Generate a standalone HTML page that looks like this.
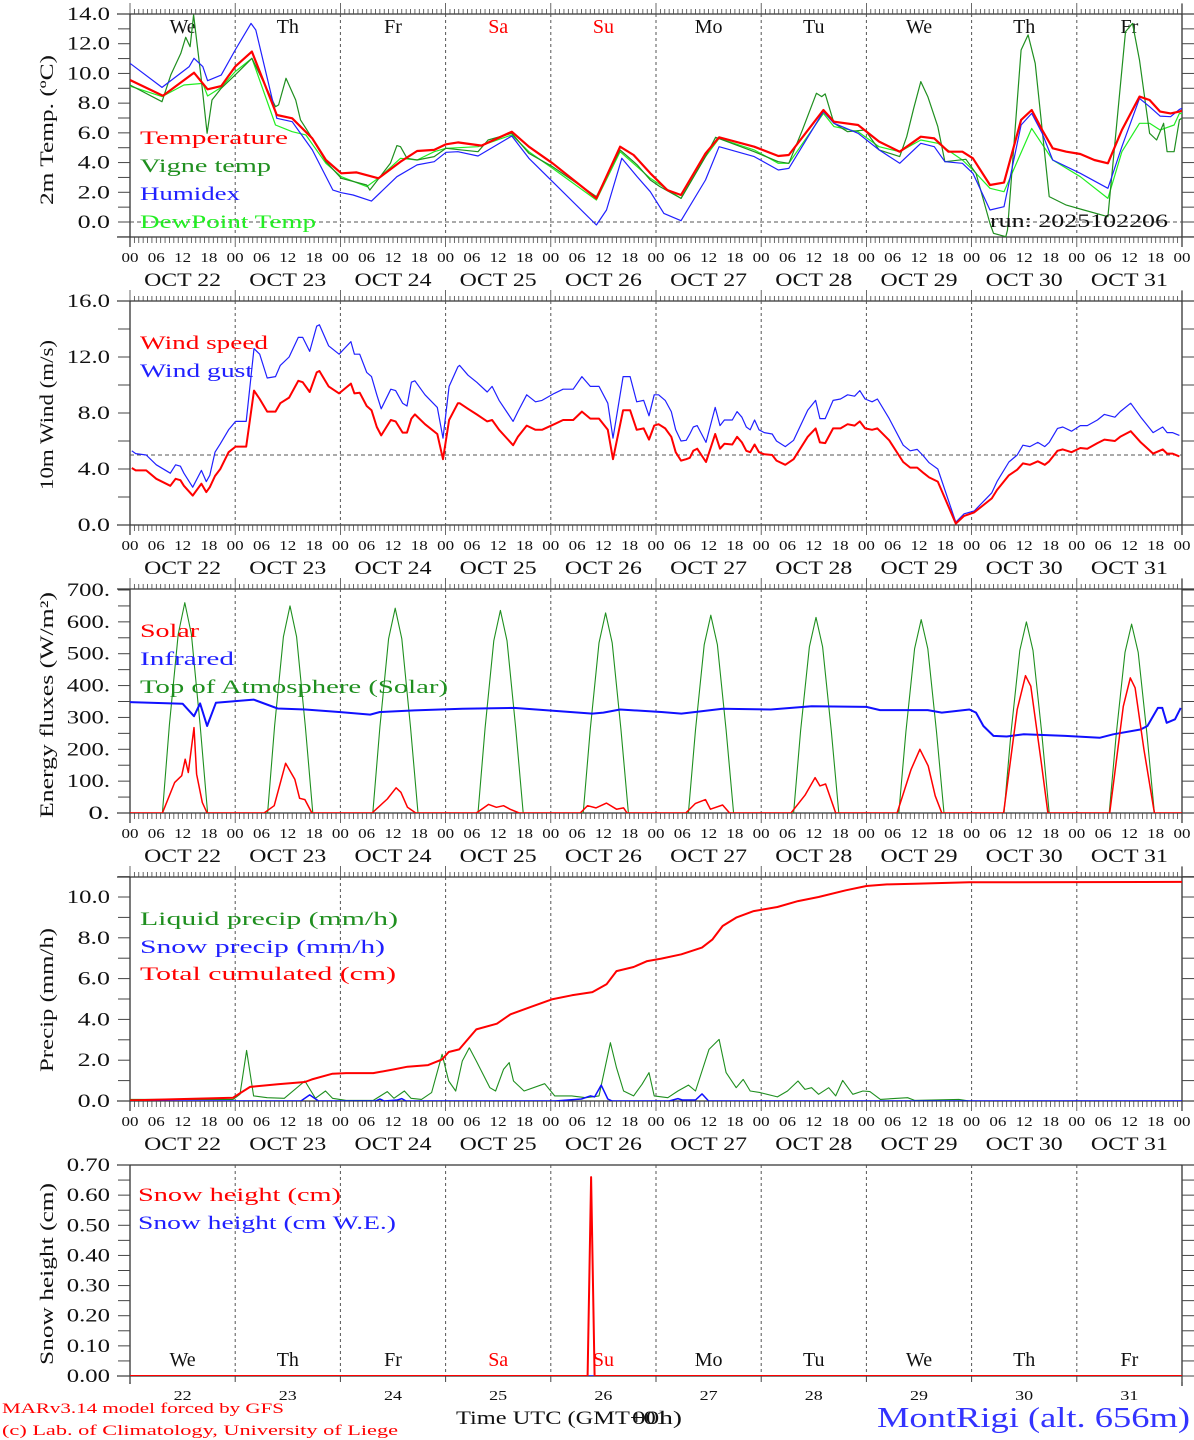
<!DOCTYPE html>
<html><head><meta charset="utf-8"><title>MAR forecast MontRigi</title>
<style>
html,body{margin:0;padding:0;background:#fff;}
svg{display:block;font-family:"Liberation Serif",serif;}
</style></head>
<body>
<svg id="chart" xmlns="http://www.w3.org/2000/svg" width="1194" height="1440" viewBox="0 0 1194 1440">
<rect x="0" y="0" width="1194" height="1440" fill="#fff"/>
<g id="axes"></g>
<g id="series"></g>
<g id="texts">
<text x="140" y="144" fill="#ff0000" font-size="19" textLength="148" lengthAdjust="spacingAndGlyphs">Temperature</text>
<text x="140" y="172" fill="#1f8f1f" font-size="19" textLength="131" lengthAdjust="spacingAndGlyphs">Vigne temp</text>
<text x="140" y="200" fill="#2020ff" font-size="19" textLength="100" lengthAdjust="spacingAndGlyphs">Humidex</text>
<text x="140" y="228" fill="#22ee22" font-size="19" textLength="176" lengthAdjust="spacingAndGlyphs">DewPoint Temp</text>
<text x="990" y="227" fill="#111" font-size="19" textLength="178" lengthAdjust="spacingAndGlyphs">run: 2025102206</text>
<text x="140" y="349" fill="#ff0000" font-size="19" textLength="128" lengthAdjust="spacingAndGlyphs">Wind speed</text>
<text x="140" y="377" fill="#2020ff" font-size="19" textLength="113" lengthAdjust="spacingAndGlyphs">Wind gust</text>
<text x="140" y="637" fill="#ff0000" font-size="19" textLength="59" lengthAdjust="spacingAndGlyphs">Solar</text>
<text x="140" y="665" fill="#2020ff" font-size="19" textLength="94" lengthAdjust="spacingAndGlyphs">Infrared</text>
<text x="140" y="693" fill="#1f8f1f" font-size="19" textLength="308" lengthAdjust="spacingAndGlyphs">Top of Atmosphere (Solar)</text>
<text x="140" y="925" fill="#1f8f1f" font-size="19" textLength="258" lengthAdjust="spacingAndGlyphs">Liquid precip (mm/h)</text>
<text x="140" y="953" fill="#2020ff" font-size="19" textLength="245" lengthAdjust="spacingAndGlyphs">Snow precip (mm/h)</text>
<text x="140" y="980" fill="#ff0000" font-size="19" textLength="256" lengthAdjust="spacingAndGlyphs">Total cumulated (cm)</text>
<text x="138" y="1201" fill="#ff0000" font-size="19" textLength="203" lengthAdjust="spacingAndGlyphs">Snow height (cm)</text>
<text x="138" y="1229" fill="#2020ff" font-size="19" textLength="258" lengthAdjust="spacingAndGlyphs">Snow height (cm W.E.)</text>
<text transform="translate(53,130) rotate(-90)" text-anchor="middle" font-size="19" fill="#111" textLength="150" lengthAdjust="spacingAndGlyphs">2m Temp. (ºC)</text>
<text transform="translate(53,415) rotate(-90)" text-anchor="middle" font-size="19" fill="#111" textLength="150" lengthAdjust="spacingAndGlyphs">10m Wind (m/s)</text>
<text transform="translate(53,705) rotate(-90)" text-anchor="middle" font-size="19" fill="#111" textLength="226" lengthAdjust="spacingAndGlyphs">Energy fluxes (W/m²)</text>
<text transform="translate(53,1000) rotate(-90)" text-anchor="middle" font-size="19" fill="#111" textLength="144" lengthAdjust="spacingAndGlyphs">Precip (mm/h)</text>
<text transform="translate(53,1274) rotate(-90)" text-anchor="middle" font-size="19" fill="#111" textLength="182" lengthAdjust="spacingAndGlyphs">Snow height (cm)</text>
<text x="2" y="1413" fill="#ff0000" font-size="15" textLength="282" lengthAdjust="spacingAndGlyphs">MARv3.14 model forced by GFS</text>
<text x="2" y="1435" fill="#ff0000" font-size="15" textLength="396" lengthAdjust="spacingAndGlyphs">(c) Lab. of Climatology, University of Liege</text>
<text x="456" y="1424" fill="#111" font-size="19" textLength="212" lengthAdjust="spacingAndGlyphs">Time UTC (GMT+01</text>
<text x="632" y="1424" fill="#111" font-size="19" textLength="50" lengthAdjust="spacingAndGlyphs">00h)</text>
<text x="877" y="1427" fill="#3333ff" font-size="28" textLength="313" lengthAdjust="spacingAndGlyphs">MontRigi (alt. 656m)</text>
</g>
</svg>
<script>
// ---------- data ----------
const dayNames = ["We","Th","Fr","Sa","Su","Mo","Tu","We","Th","Fr"];
const dayNums = ["22","23","24","25","26","27","28","29","30","31"];
const hourTicks = ["00","06","12","18"];

const tempHours = [0,7.5,14.6,17.7,20.8,24,27.8,33.5,37,41.6,44.7,48.2,51.7,56.7,61.7,65.5,69.4,72.1,74.8,80.2,87.1,91,96.4,104.1,106.4,111.8,114.9,118.7,122.6,125.7,131.3,134.4,142.4,147.9,150.3,158.2,160.6,166.1,170.9,175.6,180.4,183.5,186.7,189.9,192.3,196.2,199.4,203.3,205.7,208.1,210.5,213.6,216.8,220,223.1,226.3,230.3,232.6,235,237.4,239.4,240];
const tempVals = [9.56,8.5,10.05,8.93,9.15,10.46,11.47,7.2,6.98,5.63,4.17,3.28,3.34,2.94,4.06,4.78,4.85,5.23,5.36,5.14,6.08,5.07,3.95,2.15,1.59,5.07,4.51,3.28,2.15,1.82,4.62,5.7,5.07,4.44,4.51,7.54,6.75,6.53,5.41,4.73,5.74,5.63,4.73,4.73,4.29,2.49,2.65,6.87,7.54,6.19,4.96,4.73,4.58,4.17,3.95,6.19,8.44,8.21,7.43,7.31,7.43,7.5];

const humHours = [0,7.3,13.5,14.6,16.6,17.7,20.8,24,27.6,28.7,33.5,37,41.6,46.3,48.2,50.9,55.1,60.9,65.5,69.4,72.1,74.8,79.4,87.1,91,96.4,106.4,108.7,112.2,115.7,118.7,121.8,125.7,131.3,134.4,142.4,147.9,150.3,158.2,160.6,166.1,170.9,175.6,180.4,183.5,185.9,189.9,192.3,196.2,199.4,203.3,205.7,208.1,210.5,216.8,223.1,226.3,230.3,232.6,235,237.4,239.4,240];
const humVals = [10.68,9.06,10.46,11.02,10.46,9.51,9.89,11.58,13.37,12.92,6.98,6.75,4.85,2.15,1.97,1.82,1.41,3.05,3.84,4.06,4.69,4.73,4.44,5.79,4.29,2.71,-0.2,0.81,4.29,3.05,2.04,0.58,0.09,2.83,5.07,4.4,3.5,3.61,7.43,6.64,5.97,4.85,3.95,5.3,5.07,4.06,3.95,3.28,0.81,1.03,6.53,7.31,5.97,4.17,3.28,2.27,5.07,8.32,7.76,7.13,7.09,7.58,7.65];

const dewHours = [0,7.3,12.3,16.6,17.7,20.8,24,27.8,33.2,37,40.1,44.7,48.2,54,57.1,61.7,65.5,69.4,72.1,79.4,87.1,91,96.4,106.4,111.8,118.7,125.7,131.3,134.4,142.4,147.9,150.3,158.2,160.6,166.1,170.9,175.6,180.4,184.3,189.9,192.3,196.2,199.4,205.7,210.5,216.8,223.1,226.3,230.3,232.6,235,238.2,239.4,240];
const dewVals = [9.15,8.44,9.22,9.33,8.48,9.06,10.12,11.02,6.53,6.08,5.86,3.95,3.05,2.38,3.05,4.29,4.17,4.73,4.96,5.07,5.86,4.73,3.61,1.48,4.73,2.94,1.59,4.4,5.63,4.85,3.95,3.95,7.31,6.42,6.08,5.07,4.73,5.52,5.3,4.17,3.5,2.27,2.04,6.3,4.17,3.05,1.59,4.73,6.64,6.64,6.19,6.53,7.31,7.3];

const vigHours = [0,7.3,9.3,11.6,12.7,13.7,14.5,16.2,17.6,18.7,20.8,24,27.8,33.2,33.9,35.6,37.8,38.9,41.6,44.7,48.2,54,54.7,59.4,60.9,61.7,63.2,65.5,69.4,72.1,79.4,81.7,87.1,91,96.4,106.4,111.8,115.7,118.7,120.9,125.7,131.3,133.6,142.4,147.9,150.3,153.4,156.6,157.8,158.6,160.6,163.7,167.7,170.9,175.6,177.2,178.8,180.4,182,184.3,185.9,190.7,193,196.2,197,199.8,200.2,203.3,204.9,206.5,209.7,213.6,217.6,223.1,227.1,228.7,230.3,232.6,234.2,235.8,236.6,238.2,239.4,240];
const vigVals = [9.22,8.1,9.9,11.35,12.43,11.8,13.93,9.78,5.97,8.21,9.0,9.9,11.02,7.76,7.88,9.67,8.21,6.87,5.63,4.06,2.94,2.49,2.15,3.95,5.14,5.07,4.29,4.17,4.4,4.96,4.73,5.52,5.97,4.62,3.72,1.71,4.85,3.84,2.83,2.38,1.59,4.4,5.7,4.73,4.06,3.95,6.19,8.66,8.44,8.62,6.64,6.08,6.19,4.85,4.4,5.74,7.65,9.45,8.44,6.42,4.06,4.22,3.28,-0.1,-0.76,-0.99,-0.54,11.58,12.59,10.68,1.71,1.14,0.81,0.36,12.81,13.37,10.9,5.97,5.52,6.64,4.73,4.73,6.87,7.0];

const windHours = [0.4,1.3,3.7,6.0,9.2,10.4,11.5,12.3,14.3,16.3,17.4,18.2,19.4,20.6,22.5,24.1,26.5,28.3,29.6,31.3,33.2,34.3,36.3,38.4,39.4,41.0,42.6,43.2,45.3,47.7,50.4,51.2,52.4,54.0,55.1,56.3,57.3,59.5,60.6,62.2,63.2,64.2,65.0,67.3,70.1,71.4,72.8,74.8,75.2,77.1,79.1,81.5,82.6,84.2,87.4,88.5,90.5,92.5,94.0,96.8,98.8,101.1,103.1,105.0,107.0,109.0,110.2,112.5,114.1,115.6,117.2,118.4,119.6,120.6,122.1,123.5,124.5,125.7,126.9,127.7,128.5,129.4,131.4,132.4,133.5,134.6,135.6,137.4,138.5,139.6,140.6,141.5,142.5,143.5,144.7,146.5,147.5,149.5,151.4,154.6,156.4,157.4,158.6,160.4,162.1,163.7,165.3,166.5,167.7,169.3,170.5,173.2,176.4,178.0,179.6,181.1,182.3,184.3,188.4,190.3,192.6,196.6,197.8,200.5,202.4,203.7,205.3,207.1,208.7,209.7,211.6,212.8,214.8,216.8,218.4,220.7,222.3,224.7,225.9,228.3,230.6,233.4,235.6,236.6,237.8,239.4];
const windVals = [4.07,3.9,3.9,3.3,2.8,3.3,3.2,2.8,2.1,2.95,2.35,2.7,3.5,4.0,5.2,5.6,5.6,9.6,9.0,8.1,8.1,8.7,9.1,10.3,10.2,9.5,10.9,11.0,9.9,9.4,10.1,9.4,9.45,8.5,8.2,7.0,6.4,7.5,7.4,6.6,6.6,7.6,7.9,7.2,6.5,4.7,7.5,8.7,8.7,8.3,7.9,7.4,7.5,6.8,5.7,6.3,7.1,6.8,6.8,7.2,7.5,7.5,8.1,7.6,7.6,6.8,4.7,8.2,8.2,6.8,6.9,6.1,7.1,7.2,6.9,6.3,5.2,4.6,4.7,4.8,5.3,5.45,4.5,5.45,6.5,5.45,5.8,5.75,6.3,5.9,5.3,5.2,5.75,5.2,5.05,5.0,4.6,4.3,4.7,6.3,6.9,5.9,5.85,6.9,6.9,7.2,7.1,7.4,6.9,6.8,6.9,6.05,4.5,4.1,4.1,3.7,3.4,3.1,0.1,0.65,0.9,1.9,2.5,3.55,3.95,4.4,4.3,4.55,4.3,4.55,5.3,5.4,5.2,5.5,5.45,5.85,6.1,6.0,6.3,6.7,5.9,5.1,5.4,5.1,5.1,4.9];
const gustVals = [5.3,5.1,5.0,4.3,3.7,4.3,4.2,3.7,2.7,3.9,3.1,3.55,5.2,5.8,6.8,7.4,7.4,12.6,12.2,10.5,10.6,11.4,12.0,13.4,13.4,12.4,14.2,14.3,12.8,12.2,13.1,12.2,12.2,10.9,10.6,9.3,8.3,9.7,9.6,8.7,8.5,10.2,10.3,9.3,8.4,6.2,9.9,11.3,11.4,10.7,10.2,9.5,9.9,8.9,7.4,8.1,9.3,8.8,8.9,9.4,9.7,9.7,10.6,9.9,9.9,8.7,6.2,10.6,10.6,8.8,8.9,7.8,9.3,9.3,8.9,8.1,6.8,6.0,6.05,6.5,7.0,7.1,5.9,7.1,8.4,7.1,7.5,7.5,8.1,7.7,7.0,6.8,7.5,6.8,6.6,6.5,6.0,5.6,6.05,8.2,8.9,7.6,7.6,8.9,9.0,9.3,9.2,9.6,9.0,8.8,9.0,7.6,5.7,5.3,5.4,4.9,4.45,4.0,0.2,0.8,1.0,2.3,3.1,4.5,5.0,5.7,5.6,5.9,5.6,5.9,6.9,7.0,6.7,7.1,7.1,7.5,7.9,7.7,8.1,8.7,7.7,6.6,7.0,6.6,6.6,6.4];

const solarHours = [0,7.4,10.2,11.8,12.6,13.3,14.6,15.2,16.5,17.6,30.6,32.9,35.5,37.6,38.7,39.9,41.5,55.2,58.7,60.7,61.8,63.3,65.2,79,81.8,83.6,85.2,86.7,88.8,102.7,104.4,106.3,108.7,111,112.6,113.4,126.8,129,131.3,132.4,135.2,136.8,150.8,154,156.3,157.4,158.7,161,175,178.2,180.2,182.1,183.7,185.2,199.3,202.4,204.3,205.5,207.9,209.4,223.5,226.6,228.2,229.3,231.3,233.7,240];
const solarVals = [0,0,96,117,169,127,268,122,33,0,0,23,156,106,46,42,0,0,44,79,65,18,0,0,27,18,23,12,0,0,23,16,31,12,16,0,0,30,42,12,25,0,0,56,111,85,91,0,0,137,200,148,54,0,0,325,431,398,158,0,0,335,424,393,200,0,0];

const irHours = [0,12,14.6,16,17.6,19.6,28.2,33.7,40,47.7,54.8,57,64.9,75.8,87.6,97.7,105.5,108,111.8,121.2,125.8,135.2,146.2,155.5,168,171.1,182,185.2,191.5,193,194.7,197,200,203.9,213.4,221.2,224.3,230.5,232.1,234.5,235.5,236.5,238.4,239.7];
const irVals = [348,343,304,344,273,346,356,328,325,317,309,317,322,327,330,320,312,315,325,317,312,327,325,335,333,323,323,315,325,315,273,242,240,247,242,236,247,262,273,330,330,283,294,330];

const toaHours = [7.4,9,11,12.5,14,16,17.7, 31.4,33,35,36.5,38,40,41.7, 55.4,57,59,60.5,62,64,65.7, 79.4,81,83,84.5,86,88,89.7, 103.4,105,107,108.5,110,112,113.7, 127.4,129,131,132.5,134,136,137.7, 151.4,153,155,156.5,158,160,161.7, 175.4,177,179,180.5,182,184,185.7, 199.4,201,203,204.5,206,208,209.7, 223.4,225,227,228.5,230,232,233.7];
const toaVals = [0,277,561,660,561,277,0, 0,273,553,650,553,273,0, 0,270,547,643,547,270,0, 0,267,541,636,541,267,0, 0,264,534,628,534,264,0, 0,261,528,621,528,261,0, 0,258,522,614,522,258,0, 0,255,516,607,516,255,0, 0,252,510,600,510,252,0, 0,249,504,593,504,249,0];

const cumHours = [0,23.5,27.4,33.7,39.9,41.5,46.2,49.3,55.5,60.2,63.3,68,71.2,72.7,75.1,79,83.7,86.8,91.5,96.2,100.8,105.5,108.7,111,114.9,118,121.2,125.8,130.5,132.9,135.2,138.3,142.3,147.7,152.4,157.1,163.3,168,172.7,179,191.5,240];
const cumVals = [0.03,0.16,0.69,0.82,0.93,1.06,1.34,1.37,1.37,1.55,1.68,1.76,2.04,2.4,2.53,3.51,3.79,4.25,4.62,4.98,5.18,5.34,5.72,6.37,6.57,6.86,6.98,7.19,7.52,7.92,8.58,8.99,9.31,9.51,9.8,10.0,10.33,10.54,10.62,10.65,10.72,10.74];

const liqHours = [0,23.5,25.1,26.6,28.2,31.3,35.2,39.9,42.3,44.6,46.2,49.3,55.5,58.7,60.2,62.6,64.1,66.5,68.8,71.2,72.7,74.3,75.8,77.4,79,82.1,83.4,85.2,86.5,87.5,89.9,94.6,96.9,100.8,104,107,109.6,111,112.6,114.9,116.8,118.4,119.6,122.7,125,127.4,129,132.1,134.4,136,138.3,139.9,141.5,143.8,147.7,150,152.4,154,155.5,157.1,159.4,161,162.6,164.9,167.2,168.8,171.2,177.4,179,189.1,191.5,240];
const liqVals = [0.08,0.08,0.33,2.48,0.25,0.16,0.13,0.98,0.13,0.49,0.13,0.03,0.03,0.46,0.13,0.49,0.13,0.08,0.41,2.29,0.98,0.49,1.96,2.61,1.96,0.65,0.49,1.55,1.88,0.98,0.49,0.85,0.25,0.25,0.16,0.25,2.86,1.63,0.49,0.25,0.82,1.39,0.25,0.16,0.49,0.78,0.49,2.53,3.02,1.39,0.65,1.06,0.49,0.41,0.2,0.49,0.98,0.57,0.65,0.33,0.65,0.25,1.01,0.33,0.49,0.46,0.08,0.16,0.03,0.08,0,0];

const snowPHours = [0,39,41,43,56,57,58,61,62,63,97,100,103,105,106,107.5,109,110,123,125,126,129,130.5,132,240];
const snowPVals = [0,0,0.3,0,0,0.1,0,0.05,0.12,0,0,0.05,0.1,0.25,0.2,0.78,0.1,0,0,0.12,0.05,0.05,0.35,0,0];

const snowHHours = [0,104.4,105.2,106.0,240];
const snowHVals = [0,0,0.66,0,0];
const snowWEHours = [0,240];
const snowWEVals = [0,0];

// ---------- helpers ----------
const NS = 'http://www.w3.org/2000/svg';
const axesG = document.getElementById('axes');
const seriesG = document.getElementById('series');
const X0 = 130, X1 = 1182;
function xOf(h){ return X0 + h * (X1 - X0) / 240; }
function el(tag, parent){ const e = document.createElementNS(NS, tag); parent.appendChild(e); return e; }
function line(parent, x1, y1, x2, y2, stroke, w, dash){
  const l = el('line', parent);
  l.setAttribute('x1', x1); l.setAttribute('y1', y1); l.setAttribute('x2', x2); l.setAttribute('y2', y2);
  l.setAttribute('stroke', stroke); l.setAttribute('stroke-width', w);
  if (dash) l.setAttribute('stroke-dasharray', dash);
  return l;
}
function txt(parent, x, y, s, size, fill, anchor, len){
  const t = el('text', parent);
  t.setAttribute('x', x); t.setAttribute('y', y); t.setAttribute('font-size', size);
  t.setAttribute('fill', fill); t.setAttribute('text-anchor', anchor);
  if (len) { t.setAttribute('textLength', len); t.setAttribute('lengthAdjust', 'spacingAndGlyphs'); }
  t.textContent = s;
  return t;
}

const panels = [
  {id:'temp', top:14, bot:237, zeroY:222, k:208/14, tickStep:1, tickMin:-1, tickMax:14, labStep:2, labMin:0, fmt:v=>v.toFixed(1), dashV:0, hours:true},
  {id:'wind', top:301, bot:525, zeroY:525, k:14, tickStep:2, tickMin:0, tickMax:16, labStep:4, labMin:0, fmt:v=>v.toFixed(1), dashV:5, hours:true},
  {id:'energy', top:589, bot:813, zeroY:813, k:223/700, tickStep:50, tickMin:0, tickMax:700, labStep:100, labMin:0, fmt:v=>v.toFixed(0)+'.', dashV:null, hours:true},
  {id:'precip', top:877, bot:1101, zeroY:1101, k:20.4, tickStep:1, tickMin:0, tickMax:11, labStep:2, labMin:0, fmt:v=>v.toFixed(1), dashV:null, hours:true},
  {id:'snow', top:1165, bot:1376, zeroY:1376, k:211/0.7, tickStep:0.05, tickMin:0, tickMax:0.7, labStep:0.1, labMin:0, fmt:v=>v.toFixed(2), dashV:null, hours:false}
];

panels.forEach((p, pi) => {
  const g = el('g', axesG);
  
  
  const yOf = v => p.zeroY - v * p.k;
  const cp = el('clipPath', axesG);
  cp.setAttribute('id', 'clip-' + p.id);
  const cr = el('rect', cp);
  cr.setAttribute('x', X0); cr.setAttribute('y', p.top); cr.setAttribute('width', X1 - X0); cr.setAttribute('height', p.bot - p.top);
  const tl = line(g, 117, p.top, 1194, p.top, '#333', 1.3);
  
  
  const bl = line(g, 117, p.bot, p.hours ? 1194 : X1, p.bot, '#333', 1.3);
  
  
  const ll = line(g, X0, p.top, X0, p.bot + (p.hours ? 10 : 8), '#333', 1.3);
  
  
  const rl = line(g, X1, p.top - (p.hours ? 10 : 0), X1, p.bot + 10, '#333', 1.3);
  
  
  if (p.hours) {
    for (let h = 0; h <= 240; h++) {
      const x = xOf(h);
      const major = h % 24 === 0;
      const t1 = line(g, x, p.top, x, p.top - (major ? 11 : 5), '#444', 0.8);
      
      
      const t2 = line(g, x, p.bot, x, p.bot + (major ? 10 : 6), '#444', 0.8);
      
      
    }
    for (let h = 0; h <= 240; h += 6) {
      const lab = txt(g, xOf(h), p.bot + 25, hourTicks[(h / 6) % 4], 14, '#111', 'middle', 17);
      
      
    }
    for (let d = 0; d < 10; d++) {
      const lab = txt(g, xOf(d * 24 + 12), p.bot + 49, 'OCT ' + dayNums[d], 19, '#111', 'middle', 77);
      
      
    }
  } else {
    for (let d = 0; d <= 10; d++) {
      const t2 = line(g, xOf(d * 24), p.bot, xOf(d * 24), p.bot + 6, '#444', 1);
      
      
    }
    for (let d = 0; d < 10; d++) {
      const lab = txt(g, xOf(d * 24 + 12), p.bot + 24, dayNums[d], 14, '#111', 'middle', 18);
      
      
    }
  }
  for (let d = 1; d < 10; d++) {
    const dl = line(g, xOf(d * 24), p.top, xOf(d * 24), p.bot, '#555', 1, '3,3');
    
    
  }
  const n = Math.round((p.tickMax - p.tickMin) / p.tickStep);
  for (let i = 0; i <= n; i++) {
    const v = p.tickMin + i * p.tickStep;
    const y = yOf(v);
    const a = line(g, X0 - 12, y, X0, y, '#444', 1);
    
    
    const b = line(g, X1, y, X1 + 12, y, '#444', 1);
    
    
  }
  const nl = Math.round((p.tickMax - p.labMin) / p.labStep + 1e-6);
  for (let i = 0; i <= nl; i++) {
    const v = p.labMin + i * p.labStep;
    if (v > p.tickMax + 1e-9) break;
    const s = p.fmt(v);
    const lab = txt(g, 110, yOf(v) + 6, s, 19, '#111', 'end', s.length * 10.8);
    
    
  }
  if (p.dashV !== null) {
    const hl = line(g, X0, yOf(p.dashV), X1, yOf(p.dashV), '#555', 1, '4,3');
    
    
  }
  p.yOf = yOf;
});

[[0, 33], [4, 1366]].forEach(([pi, y]) => {
  for (let d = 0; d < 10; d++) {
    const c = (dayNames[d] === 'Sa' || dayNames[d] === 'Su') ? '#ff0000' : '#111';
    const t = txt(axesG, xOf(d * 24 + 12), y, dayNames[d], 20, c, 'middle', 0);
    
    
  }
});

function series(pi, hours, vals, color, width, name){
  const p = panels[pi];
  let d = '';
  for (let i = 0; i < hours.length; i++) {
    d += (i ? 'L' : 'M') + xOf(hours[i]).toFixed(1) + ',' + p.yOf(vals[i]).toFixed(1);
  }
  const path = el('path', seriesG);
  path.setAttribute('d', d);
  path.setAttribute('fill', 'none');
  path.setAttribute('stroke', color);
  path.setAttribute('stroke-width', width);
  path.setAttribute('stroke-linejoin', 'round');
  path.setAttribute('clip-path', 'url(#clip-' + p.id + ')');
  
  
}

series(0, dewHours, dewVals, '#22ee22', 1.2, 'dewpoint-line');
series(0, vigHours, vigVals, '#1f8f1f', 1.2, 'vigne-temp-line');
series(0, humHours, humVals, '#2020ff', 1.2, 'humidex-line');
series(0, tempHours, tempVals, '#ff0000', 2.2, 'temperature-line');
series(1, windHours, gustVals, '#2020ff', 1.2, 'wind-gust-line');
series(1, windHours, windVals, '#ff0000', 2, 'wind-speed-line');
series(2, toaHours, toaVals, '#1f8f1f', 1.1, 'toa-solar-line');
series(2, irHours, irVals, '#1010ff', 2, 'infrared-line');
series(2, solarHours, solarVals, '#ff0000', 1.5, 'solar-line');
series(3, liqHours, liqVals, '#1f8f1f', 1.1, 'liquid-precip-line');
series(3, snowPHours, snowPVals, '#1010ff', 1.5, 'snow-precip-line');
series(3, cumHours, cumVals, '#ff0000', 2, 'cumulated-precip-line');
series(4, snowWEHours, snowWEVals, '#1010ff', 1.5, 'snow-height-we-line');
series(4, snowHHours, snowHVals, '#ff0000', 2, 'snow-height-line');
</script>
</body></html>
